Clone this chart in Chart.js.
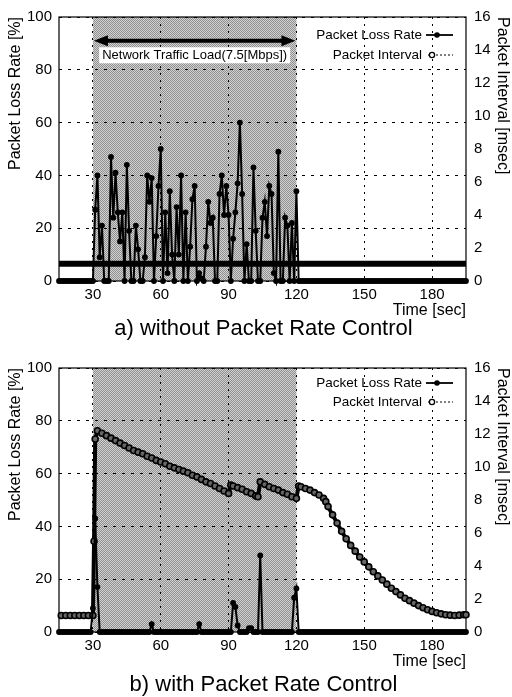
<!DOCTYPE html>
<html>
<head>
<meta charset="utf-8">
<script src="https://cdn.jsdelivr.net/npm/chart.js@4.4.1/dist/chart.umd.min.js"></script>
<style>
  html, body { margin: 0; padding: 0; background: #fff; }
  #page { position: relative; width: 512px; height: 697px; overflow: hidden; font-family: "Liberation Sans", Arial, sans-serif; }
  #page canvas { position: absolute; left: 0; }
  .caption { position: absolute; left: 0; width: 527px; text-align: center; font-size: 22px; line-height: 26px; color: #000; }
</style>
</head>
<body>
<div id="page">
  <canvas id="chartA" width="512" height="320" style="top:0"></canvas>
  <div class="caption" style="top:315px">a) without Packet Rate Control</div>
  <canvas id="chartB" width="512" height="320" style="top:351px"></canvas>
  <div class="caption" style="top:671px">b) with Packet Rate Control</div>
</div>
<script>
// sampling: one loss-rate sample per second, 15 s .. 195 s
const startSec = 15;
const endSec = 195;
const timeTicks = [30, 60, 90, 120, 150, 180];
const lossTicks = [0, 20, 40, 60, 80, 100];
const intervalTicks = [0, 2, 4, 6, 8, 10, 12, 14, 16];
const trafficLoad = [30, 120];          // 7.5 Mbps load on from .. to (sec)

// a) without packet rate control
const lossRateA = [
  0, 0, 0, 0, 0, 0, 0, 0, 0, 0, 0, 0, 0, 0, 0,          // 15-29
  0, 27, 40, 9, 21, 0, 0, 0, 47, 24,                     // 30-39
  41, 26, 15, 26, 0, 44, 19, 0, 0, 21,                   // 40-49
  12, 0, 0, 9, 40, 30, 39, 0, 17, 36,                    // 50-59
  50, 0, 26, 3, 34, 10, 0, 28, 10, 40,                   // 60-69
  0, 26, 0, 13, 31, 36, 0, 3, 1, 0,                      // 70-79
  13, 30, 22, 24, 0, 0, 33, 40, 25, 36,                  // 80-89
  25, 0, 16, 26, 37, 60, 33, 0, 14, 0,                   // 90-99
  0, 43, 19, 0, 0, 24, 30, 17, 36, 33,                   // 100-109
  3, 0, 49, 0, 0, 24, 21, 0, 22, 0,                      // 110-119
  34,                                                    // 120
  0, 0, 0, 0, 0, 0, 0, 0, 0, 0, 0, 0, 0, 0, 0,          // 121-135
  0, 0, 0, 0, 0, 0, 0, 0, 0, 0, 0, 0, 0, 0, 0,          // 136-150
  0, 0, 0, 0, 0, 0, 0, 0, 0, 0, 0, 0, 0, 0, 0,          // 151-165
  0, 0, 0, 0, 0, 0, 0, 0, 0, 0, 0, 0, 0, 0, 0,          // 166-180
  0, 0, 0, 0, 0, 0, 0, 0, 0, 0, 0, 0, 0, 0, 0           // 181-195
];
const intervalTimeA = [15, 30, 60, 90, 120, 150, 180, 195];
const intervalA = [1.05, 1.05, 1.05, 1.05, 1.05, 1.05, 1.05, 1.05];

// b) with packet rate control
const lossRateB = [
  0, 0, 0, 0, 0, 0, 0, 0, 0, 0, 0, 0, 0, 0, 0,          // 15-29
  9, 43, 17, 0, 0, 0, 0, 0, 0, 0,                        // 30-39
  0, 0, 0, 0, 0, 0, 0, 0, 0, 0,                          // 40-49
  0, 0, 0, 0, 0, 0, 3, 0, 0, 0,                          // 50-59
  0, 0, 0, 0, 0, 0, 0, 0, 0, 0,                          // 60-69
  0, 0, 0, 0, 0, 0, 0, 3, 0, 0,                          // 70-79
  0, 0, 0, 0, 0, 0, 0, 0, 0, 0,                          // 80-89
  0, 0, 11, 9.5, 2.5, 0, 0, 0, 0, 1.5,                   // 90-99
  1.5, 0, 0, 0, 29, 0, 0, 0, 0, 0,                       // 100-109
  0, 0, 0, 0, 0, 0, 0, 0, 0, 13,                         // 110-119
  16.5,                                                  // 120
  0, 0, 0, 0, 0, 0, 0, 0, 0, 0, 0, 0, 0, 0, 0,          // 121-135
  0, 0, 0, 0, 0, 0, 0, 0, 0, 0, 0, 0, 0, 0, 0,          // 136-150
  0, 0, 0, 0, 0, 0, 0, 0, 0, 0, 0, 0, 0, 0, 0,          // 151-165
  0, 0, 0, 0, 0, 0, 0, 0, 0, 0, 0, 0, 0, 0, 0,          // 166-180
  0, 0, 0, 0, 0, 0, 0, 0, 0, 0, 0, 0, 0, 0, 0           // 181-195
];
const intervalTimeB = [
  16, 18, 20, 22, 24, 26, 28, 30, 30.5, 31, 32, 34, 36, 38, 40, 42, 44, 46, 48, 50,
  52, 54, 56, 58, 60, 62, 64, 66, 68, 70, 72, 74, 76, 78, 80, 82, 84, 86, 88, 90,
  91, 92, 94, 96, 98, 100, 102, 103, 104, 106, 108, 110, 112, 114, 116, 118, 120, 121, 122, 124,
  126, 128, 130, 132, 133, 134, 136, 138, 140, 142, 144, 146, 148, 150, 152, 154, 156, 158, 160, 162,
  164, 166, 168, 170, 172, 174, 176, 178, 180, 182, 184, 186, 188, 190, 192, 194, 195
];
const intervalB = [
  1.0, 1.0, 1.0, 1.0, 1.0, 1.0, 1.0, 1.0, 5.5, 11.7, 12.2, 12.05, 11.9, 11.75, 11.6, 11.45, 11.3, 11.15, 11.0, 10.9,
  10.8, 10.65, 10.55, 10.4, 10.3, 10.2, 10.05, 9.95, 9.85, 9.75, 9.65, 9.5, 9.4, 9.25, 9.1, 9.0, 8.85, 8.7, 8.55, 8.4,
  8.9, 8.85, 8.75, 8.65, 8.5, 8.4, 8.25, 8.2, 9.1, 8.95, 8.8, 8.7, 8.6, 8.45, 8.35, 8.2, 8.1, 8.85, 8.8, 8.7,
  8.6, 8.45, 8.3, 8.1, 7.9, 7.6, 7.1, 6.6, 6.1, 5.65, 5.25, 4.9, 4.55, 4.25, 3.95, 3.65, 3.4, 3.15, 2.9, 2.65,
  2.45, 2.25, 2.05, 1.9, 1.75, 1.6, 1.47, 1.35, 1.25, 1.17, 1.1, 1.05, 1.02, 1.0, 1.02, 1.05, 1.05
];

const sampleSec = [];
for (let s = startSec; s <= endSec; s++) sampleSec.push(s);

const FONT = '"Liberation Sans", Arial, sans-serif';
Chart.defaults.font.family = FONT;
Chart.defaults.color = '#000';

// halftone-like fill for the load period
const stipple = (() => {
  const c = document.createElement('canvas');
  c.width = 2; c.height = 2;
  const g = c.getContext('2d');
  g.fillStyle = '#d2d2d2'; g.fillRect(0, 0, 2, 2);
  g.fillStyle = '#8f8f8f'; g.fillRect(0, 0, 1, 1); g.fillRect(1, 1, 1, 1);
  return c;
})();

const loadShade = {
  id: 'loadShade',
  beforeDraw(chart) {
    const { ctx, chartArea: a, scales: { x } } = chart;
    const x0 = x.getPixelForValue(trafficLoad[0]), x1 = x.getPixelForValue(trafficLoad[1]);
    ctx.save();
    ctx.fillStyle = ctx.createPattern(stipple, 'repeat');
    ctx.fillRect(x0, a.top, x1 - x0, a.bottom - a.top);
    ctx.restore();
  },
  beforeDatasetsDraw(chart) {
    const { ctx, chartArea: a } = chart;
    ctx.save();
    ctx.strokeStyle = '#000'; ctx.lineWidth = 1.2;
    ctx.strokeRect(a.left, a.top, a.right - a.left, a.bottom - a.top);
    ctx.restore();
  }
};

const loadNote = {
  id: 'loadNote',
  beforeDatasetsDraw(chart, args, opts) {
    if (!opts.text) return;
    const { ctx, scales: { x, y } } = chart;
    const x0 = x.getPixelForValue(trafficLoad[0]), x1 = x.getPixelForValue(trafficLoad[1]);
    const ya = y.getPixelForValue(opts.arrowAt), yt = y.getPixelForValue(opts.textAt);
    ctx.save();
    ctx.strokeStyle = '#000'; ctx.fillStyle = '#000'; ctx.lineWidth = 4;
    ctx.beginPath(); ctx.moveTo(x0 + 10, ya); ctx.lineTo(x1 - 10, ya); ctx.stroke();
    ctx.beginPath(); ctx.moveTo(x0 + 1, ya); ctx.lineTo(x0 + 15, ya - 5.5); ctx.lineTo(x0 + 15, ya + 5.5); ctx.closePath(); ctx.fill();
    ctx.beginPath(); ctx.moveTo(x1 - 1, ya); ctx.lineTo(x1 - 15, ya - 5.5); ctx.lineTo(x1 - 15, ya + 5.5); ctx.closePath(); ctx.fill();
    ctx.font = '13px ' + FONT;
    const w = ctx.measureText(opts.text).width, cx = (x0 + x1) / 2;
    ctx.fillStyle = '#fff';
    ctx.fillRect(cx - w / 2 - 3, yt - 8, w + 6, 16);
    ctx.fillStyle = '#000'; ctx.textAlign = 'center'; ctx.textBaseline = 'middle';
    ctx.fillText(opts.text, cx, yt);
    ctx.restore();
  }
};

// legend: text right-aligned, sample drawn to the right of it
const keyBox = {
  id: 'keyBox',
  afterDraw(chart, args, opts) {
    const { ctx, chartArea: a } = chart;
    const ds = chart.data.datasets;
    const tx = a.right - 44, y0 = a.top + opts.rows[0], y1 = a.top + opts.rows[1];
    ctx.save();
    ctx.font = '13.5px ' + FONT;
    ctx.fillStyle = '#000'; ctx.strokeStyle = '#000';
    ctx.textAlign = 'right'; ctx.textBaseline = 'middle';
    ctx.fillText(ds[0].label, tx, y0);
    ctx.fillText(ds[1].label, tx, y1);
    ctx.lineWidth = 1.8;
    ctx.beginPath(); ctx.moveTo(tx + 4, y0); ctx.lineTo(a.right - 13, y0); ctx.stroke();
    ctx.beginPath(); ctx.arc(tx + 15, y0, 2.8, 0, Math.PI * 2); ctx.fill();
    ctx.lineWidth = 1; ctx.setLineDash([2, 2]);
    ctx.beginPath(); ctx.moveTo(tx + 6, y1); ctx.lineTo(a.right - 13, y1); ctx.stroke();
    ctx.setLineDash([]); ctx.lineWidth = 1.3; ctx.fillStyle = '#fff';
    ctx.beginPath(); ctx.arc(tx + 10, y1, 2.6, 0, Math.PI * 2); ctx.fill(); ctx.stroke();
    ctx.restore();
  }
};

function makeChart(id, lossRate, intervalTime, interval, opts) {
  const ctx = document.getElementById(id).getContext('2d');
  return new Chart(ctx, {
    type: 'line',
    data: {
      datasets: [
        {
          label: 'Packet Loss Rate', yAxisID: 'y',
          data: sampleSec.map((t, i) => ({ x: t, y: lossRate[i] })),
          borderColor: '#000', backgroundColor: '#000', borderWidth: 2,
          pointRadius: 2.9, pointBorderWidth: 0, pointBackgroundColor: '#000',
          tension: 0, clip: 5,
        },
        {
          label: 'Packet Interval', yAxisID: 'y2',
          data: intervalTime.map((t, i) => ({ x: t, y: interval[i] })),
          borderColor: '#000', backgroundColor: '#555', borderWidth: opts.intervalWidth,
          pointRadius: opts.intervalPoint, pointBorderWidth: 1.6,
          pointBackgroundColor: '#666', pointBorderColor: '#000',
          tension: 0, clip: 5,
        },
      ],
    },
    options: {
      responsive: false, animation: false, devicePixelRatio: 1,
      layout: { padding: { top: opts.top, left: 0, right: 0, bottom: 0 } },
      plugins: {
        legend: { display: false }, tooltip: { enabled: false },
        keyBox: { rows: opts.keyRows },
        loadNote: { text: opts.note, arrowAt: 91, textAt: 85.5 },
      },
      scales: {
        x: {
          type: 'linear', min: startSec, max: endSec,
          afterBuildTicks: s => { s.ticks = timeTicks.map(v => ({ value: v })); },
          afterFit: s => { s.height = 39; },
          grid: { color: '#000', lineWidth: 1, drawTicks: false },
          border: { display: false, dash: [2, 5] },
          ticks: { font: { size: 15 }, padding: 5, maxRotation: 0 },
          title: { display: true, text: 'Time [sec]', align: 'end', font: { size: 16 }, padding: { top: 0, bottom: 0 } },
        },
        y: {
          position: 'left', min: 0, max: 100,
          afterBuildTicks: s => { s.ticks = lossTicks.map(v => ({ value: v })); },
          afterFit: s => { s.width = 59; },
          grid: { color: '#000', lineWidth: 1, drawTicks: false },
          border: { display: false, dash: [3, 6] },
          ticks: { font: { size: 15 }, padding: 7 },
          title: { display: true, text: 'Packet Loss Rate [%]', align: 'end', font: { size: 16 }, padding: { top: 6, bottom: 0 } },
        },
        y2: {
          position: 'right', min: 0, max: 16,
          afterBuildTicks: s => { s.ticks = intervalTicks.map(v => ({ value: v })); },
          afterFit: s => { s.width = 46; },
          grid: { display: false, drawTicks: false },
          border: { display: false },
          ticks: { font: { size: 15 }, padding: 8 },
          title: { display: true, text: 'Packet Interval [msec]', align: 'end', font: { size: 16 }, padding: { top: 0, bottom: 0 } },
        },
      },
    },
    plugins: [loadShade, loadNote, keyBox],
  });
}

makeChart('chartA', lossRateA, intervalTimeA, intervalA, {
  top: 11, keyRows: [18, 38], note: 'Network Traffic Load(7.5[Mbps])', intervalWidth: 6, intervalPoint: 0,
});
makeChart('chartB', lossRateB, intervalTimeB, intervalB, {
  top: 17, keyRows: [15, 34], note: '', intervalWidth: 4, intervalPoint: 3,
});
</script>
</body>
</html>
